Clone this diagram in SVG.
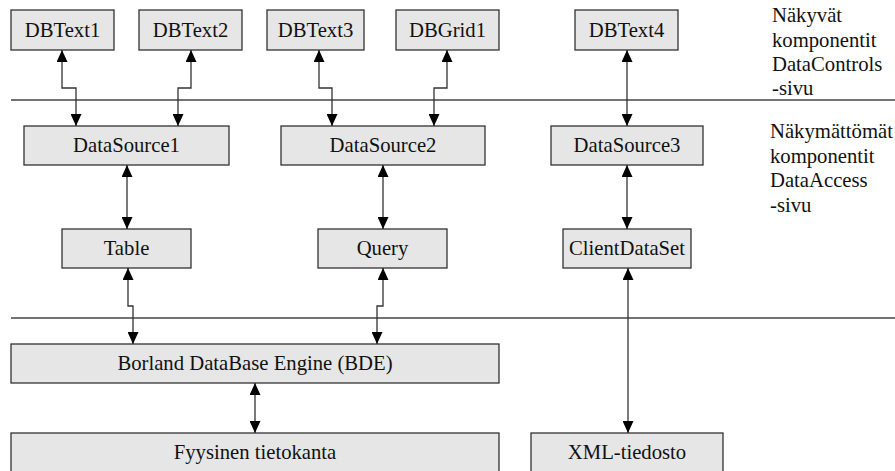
<svg xmlns="http://www.w3.org/2000/svg" width="895" height="471" viewBox="0 0 895 471">
<defs>
<marker id="ah" viewBox="0 0 12 11" markerWidth="12" markerHeight="11" refX="12" refY="5.5" orient="auto-start-reverse" markerUnits="userSpaceOnUse">
<path d="M0,0 L12,5.5 L0,11 z" fill="#000"/>
</marker>
<style>
.box{fill:#e6e6e6;stroke:#333;stroke-width:1.3}
text{font-family:'Liberation Serif','Times New Roman',serif;font-size:20.7px;fill:#111}
.t{text-anchor:middle}
.c{fill:none;stroke:#333;stroke-width:1.3;marker-start:url(#ah);marker-end:url(#ah)}
.sep{stroke:#444;stroke-width:1.3}
</style>
</defs>
<rect width="895" height="471" fill="#fff"/>
<g id="separators">
<line class="sep" x1="11" y1="100" x2="895" y2="100"/>
<line class="sep" x1="11" y1="318" x2="895" y2="318"/>
</g>
<g id="dbtext1"><rect class="box" x="11" y="10" width="103" height="40"/><text class="t" x="62.5" y="37">DBText1</text></g>
<g id="dbtext2"><rect class="box" x="139" y="10" width="103" height="40"/><text class="t" x="190.5" y="37">DBText2</text></g>
<g id="dbtext3"><rect class="box" x="267" y="10" width="97" height="40"/><text class="t" x="315.5" y="37">DBText3</text></g>
<g id="dbgrid1"><rect class="box" x="396" y="10" width="103" height="40"/><text class="t" x="447.5" y="37">DBGrid1</text></g>
<g id="dbtext4"><rect class="box" x="575" y="10" width="103" height="40"/><text class="t" x="626.5" y="37">DBText4</text></g>
<g id="datasource1"><rect class="box" x="24" y="126" width="205" height="39"/><text class="t" x="126.5" y="152">DataSource1</text></g>
<g id="datasource2"><rect class="box" x="281" y="126" width="204" height="39"/><text class="t" x="383" y="152">DataSource2</text></g>
<g id="datasource3"><rect class="box" x="551" y="126" width="152" height="39"/><text class="t" x="627" y="152">DataSource3</text></g>
<g id="table"><rect class="box" x="62" y="229" width="129" height="39"/><text class="t" x="126.5" y="255">Table</text></g>
<g id="query"><rect class="box" x="318" y="229" width="129" height="39"/><text class="t" x="382.5" y="255">Query</text></g>
<g id="clientdataset"><rect class="box" x="563" y="229" width="128" height="39"/><text class="t" x="627" y="255">ClientDataSet</text></g>
<g id="bde"><rect class="box" x="11" y="344" width="488" height="39"/><text class="t" x="255" y="370">Borland DataBase Engine (BDE)</text></g>
<g id="fyysinen"><rect class="box" x="11" y="433" width="488" height="45"/><text class="t" x="255" y="459">Fyysinen tietokanta</text></g>
<g id="xml"><rect class="box" x="531" y="433" width="192" height="45"/><text class="t" x="627" y="459">XML-tiedosto</text></g>
<g id="label-visible">
<text x="772" y="22">Näkyvät</text>
<text x="772" y="47">komponentit</text>
<text x="772" y="71">DataControls</text>
<text x="772" y="95">-sivu</text>
</g>
<g id="label-invisible">
<text x="770" y="138">Näkymättömät</text>
<text x="770" y="163">komponentit</text>
<text x="770" y="187">DataAccess</text>
<text x="770" y="212">-sivu</text>
</g>
<g id="connectors">
<path class="c" d="M62,50 L62,88 L76,88 L76,126"/>
<path class="c" d="M191,50 L191,88 L178,88 L178,126"/>
<path class="c" d="M319,50 L319,88 L332,88 L332,126"/>
<path class="c" d="M447,50 L447,88 L434,88 L434,126"/>
<path class="c" d="M627,50 L627,126"/>
<path class="c" d="M127,165 L127,229"/>
<path class="c" d="M383,165 L383,229"/>
<path class="c" d="M627,165 L627,229"/>
<path class="c" d="M128,268 L128,306 L133,306 L133,344"/>
<path class="c" d="M383,268 L383,306 L377,306 L377,344"/>
<path class="c" d="M255,383 L255,433"/>
<path class="c" d="M628,268 L628,433"/>
</g>
</svg>
